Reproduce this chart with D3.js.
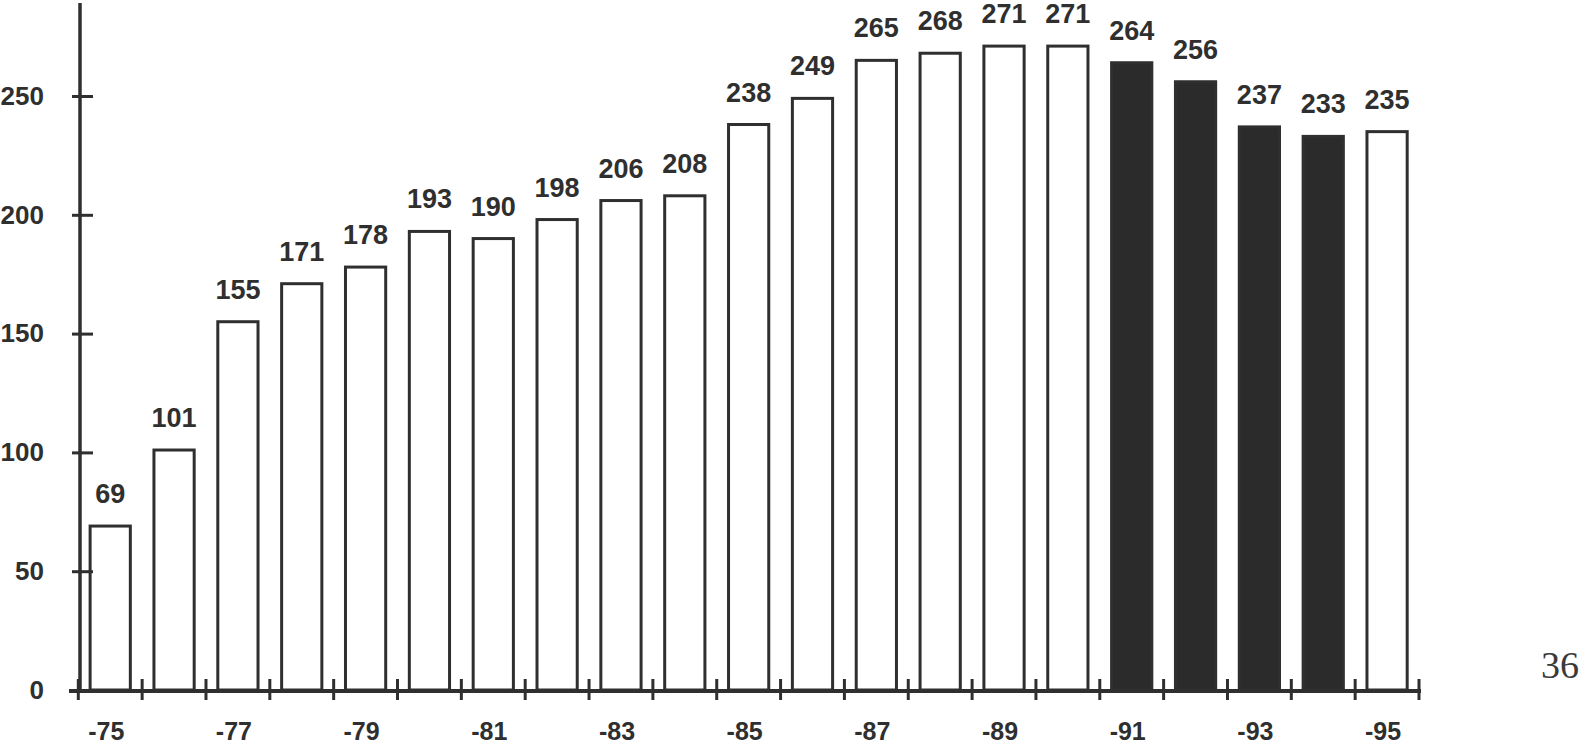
<!DOCTYPE html>
<html>
<head>
<meta charset="utf-8">
<script src="https://cdn.jsdelivr.net/npm/d3@7"></script>
<style>
  html, body { margin: 0; padding: 0; background: #fff; }
  svg { display: block; }
  text { fill: #2f2f2f; }
</style>
</head>
<body>
<div id="chart"></div>
<script>
// Dati
const years = [1975, 1976, 1977, 1978, 1979, 1980, 1981, 1982, 1983, 1984, 1985,
  1986, 1987, 1988, 1989, 1990, 1991, 1992, 1993, 1994, 1995];
const values = [69, 101, 155, 171, 178, 193, 190, 198, 206, 208, 238,
  249, 265, 268, 271, 271, 264, 256, 237, 233, 235];
const darkYears = [1991, 1992, 1993, 1994];
const xTickYears = [1975, 1977, 1979, 1981, 1983, 1985, 1987, 1989, 1991, 1993, 1995];
const yTicks = [0, 50, 100, 150, 200, 250];
const pageNumber = "36";

const width = 1580;
const height = 745;
const ink = "#2f2f2f";
const sans = "'Liberation Sans', Arial, Helvetica, sans-serif";

const svg = d3.select("#chart").append("svg")
  .attr("width", width)
  .attr("height", height);

const x = d3.scaleBand()
  .domain(years)
  .range([78.3, 1419])
  .paddingInner(0.37)
  .paddingOuter(0.185);

const y = d3.scaleLinear()
  .domain([0, 250])
  .range([690, 96]);

// Barre
svg.append("g")
  .selectAll("rect")
  .data(years)
  .join("rect")
  .attr("x", (d) => x(d))
  .attr("y", (d, i) => y(values[i]))
  .attr("width", x.bandwidth())
  .attr("height", (d, i) => y(0) - y(values[i]))
  .attr("fill", (d) => (darkYears.includes(d) ? "#2b2b2b" : "#fff"))
  .attr("stroke", ink)
  .attr("stroke-width", 3);

// Etichette dei valori
svg.append("g")
  .selectAll("text")
  .data(years)
  .join("text")
  .attr("x", (d) => x(d) + x.bandwidth() / 2)
  .attr("y", (d, i) => y(values[i]) - 23)
  .attr("text-anchor", "middle")
  .style("font-family", sans)
  .style("font-size", "27px")
  .style("font-weight", "bold")
  .text((d, i) => values[i]);

// Asse Y
const yAxis = svg.append("g")
  .attr("transform", "translate(80,0)")
  .call(d3.axisLeft(y).tickValues(yTicks).tickSize(8).tickPadding(0));
yAxis.select(".domain").remove();
yAxis.selectAll(".tick line")
  .attr("x1", 13).attr("x2", -8)
  .attr("stroke", ink).attr("stroke-width", 3);
yAxis.selectAll(".tick text")
  .attr("x", -36)
  .style("font-family", sans)
  .style("font-size", "26px")
  .style("font-weight", "bold")
  .style("fill", ink);
yAxis.selectAll(".tick").filter((d) => d === 0).select("line").remove();

svg.append("line")
  .attr("x1", 80).attr("x2", 80)
  .attr("y1", 3).attr("y2", 692)
  .attr("stroke", ink).attr("stroke-width", 3.5);

// Asse X
svg.append("line")
  .attr("x1", 69).attr("x2", 1421)
  .attr("y1", 691).attr("y2", 691)
  .attr("stroke", ink).attr("stroke-width", 4);

const xAxis = svg.append("g")
  .attr("transform", "translate(0,691)")
  .call(d3.axisBottom(x).tickValues(xTickYears).tickSize(0)
    .tickFormat((d) => "-" + String(d).slice(2)));
xAxis.select(".domain").remove();
xAxis.selectAll(".tick text")
  .attr("y", 49)
  .attr("dy", 0)
  .attr("dx", -4)
  .style("font-family", sans)
  .style("font-size", "25px")
  .style("font-weight", "bold")
  .style("fill", ink);

// Tacche tra le barre
const boundaries = d3.range(years.length + 1).map((i) => x.range()[0] + i * x.step());
svg.append("g")
  .selectAll("line")
  .data(boundaries)
  .join("line")
  .attr("x1", (d) => d).attr("x2", (d) => d)
  .attr("y1", 679).attr("y2", 700)
  .attr("stroke", ink).attr("stroke-width", 3);

// Numero di pagina
svg.append("text")
  .attr("x", 1579)
  .attr("y", 678)
  .attr("text-anchor", "end")
  .style("font-family", "'Liberation Serif', 'Times New Roman', serif")
  .style("font-size", "38px")
  .style("fill", "#3a3a3a")
  .text(pageNumber);
</script>
</body>
</html>
